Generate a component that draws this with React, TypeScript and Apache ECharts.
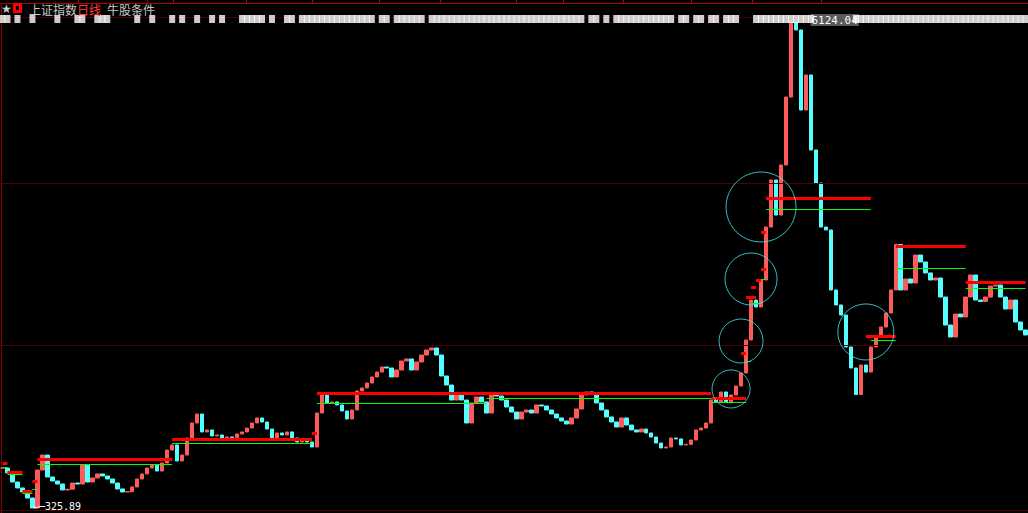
import React, { useEffect, useRef } from "react";
import * as echarts from "echarts";

// Daily closes (one bar per ~5px column)
const closes = [
  803, 744, 636, 565, 517, 445, 325.89, 779, 958, 696,
  648, 612, 541, 550, 624, 612, 839, 636, 684, 732,
  708, 672, 624, 553, 517, 520, 577, 672, 732, 803,
  839, 767, 863, 1018, 1078, 887, 958, 1161, 1340, 1447,
  1233, 1257, 1185, 1197, 1161, 1173, 1168, 1209, 1233, 1280,
  1340, 1400, 1352, 1268, 1161, 1221, 1197, 1233, 1161, 1113,
  1137, 1113, 1054, 1459, 1698, 1579, 1591, 1555, 1483, 1388,
  1495, 1722, 1758, 1817, 1889, 1948, 2008, 1996, 1889, 1972,
  2080, 2104, 1972, 2068, 2151, 2211, 2235, 2151, 1901, 1793,
  1614, 1674, 1614, 1340, 1579, 1650, 1591, 1459, 1698, 1662,
  1614, 1531, 1471, 1388, 1471, 1495, 1459, 1555, 1543, 1495,
  1447, 1400, 1364, 1328, 1400, 1507, 1674, 1710, 1698, 1579,
  1495, 1412, 1352, 1292, 1400, 1316, 1257, 1233, 1268, 1221,
  1173, 1101, 1042, 1054, 1161, 1150, 1078, 1085, 1137, 1257,
  1280, 1340, 1614, 1591, 1710, 1591, 1674, 1781, 1937, 2330,
  2807, 2724, 3046, 3678, 4239, 3821, 4418, 5229, 6124.04, 6029,
  5074, 5492, 4597, 4203, 3678, 3643, 2927, 2748, 2628, 2247,
  1996, 1680, 2032, 1948, 2247, 2378, 2485, 2652, 2927, 3470,
  2927, 3058, 3010, 3344, 3261, 3130, 3046, 3070, 2843, 2509,
  2366, 2640, 2605, 2843, 3106, 2807, 2790, 2843, 2974, 2986,
  2843, 2700, 2807, 2545, 2450, 2390,
];

const PEAK = 6124.04;
const LOW = 325.89;
const peakIndex = 158;
const lowIndex = 6;

// [startIndex, endIndex, price]
const redLevels = [
  [0, 1, 863], [1, 4, 755], [4, 6, 529], [6, 7, 648], [7, 34, 911],
  [34, 62, 1149], [62, 63, 1221], [63, 142, 1698], [142, 149, 1638],
  [148, 149, 2175], [149, 151, 2843], [150, 151, 2963], [151, 152, 3046],
  [152, 153, 3177], [152, 153, 3619], [153, 174, 4024], [173, 179, 2378],
  [179, 193, 3452], [193, 205, 3022],
];
const greenLevels = [
  [0, 1, 815], [1, 4, 732], [4, 6, 505], [6, 7, 553], [7, 34, 851],
  [34, 62, 1101], [63, 97, 1579], [97, 142, 1638], [142, 149, 1591],
  [149, 150, 2080], [150, 152, 2772], [152, 153, 3058], [153, 174, 3893],
  [174, 179, 2330], [179, 193, 3189], [193, 205, 2951],
];
// [index, price, diameter]
const circles = [
  [152, 3917, 70], [150, 3058, 52], [148, 2318, 44], [146, 1746, 38], [173, 2426, 56],
];
// runs of signal marks along the top strip [startIndex, endIndex]
const signalRuns = [
  [0, 1], [3, 3], [6, 6], [11, 11], [15, 16], [19, 21], [27, 27], [30, 30],
  [34, 34], [36, 36], [39, 39], [42, 42], [44, 44], [48, 52], [54, 54],
  [57, 58], [60, 74], [76, 77], [79, 84], [86, 116], [118, 119], [121, 121],
  [123, 134], [136, 137], [139, 140], [142, 143], [145, 147], [151, 162],
  [171, 205],
];
const gridLevels = [4203, 2271];
const topTicks = [78, 147, 173, 246, 312, 379, 440, 516, 563, 623, 691, 752, 821];

export default function App() {
  const ref = useRef<HTMLDivElement>(null);
  useEffect(() => {
    if (!ref.current) return;
    const chart = echarts.init(ref.current, null, { renderer: "svg" });
    const cats = closes.map((_, i) => String(i));
    const candles = closes.map((c, i) => {
      const o = i ? closes[i - 1] : c;
      return [o, c, Math.min(o, c), Math.max(o, c)];
    });
    const signals: number[][] = [];
    signalRuns.forEach(([s, e]) => {
      for (let i = s; i <= e; i++) signals.push([i, 0.5]);
    });
    const seg = (lv: number[][]) =>
      lv.map(([s, e, v]) => [{ coord: [s, v] }, { coord: [e, v] }]);
    const hidden = {
      type: "line",
      data: closes,
      showSymbol: false,
      silent: true,
      lineStyle: { opacity: 0 },
    };
    const graphic: any[] = [
      { type: "line", z: 0, shape: { x1: 0, y1: 3.5, x2: 1028, y2: 3.5 }, style: { stroke: "#b00000", lineWidth: 1 } },
      ...topTicks.map((x) => ({
        type: "line", z: 0, shape: { x1: x + 0.5, y1: 0, x2: x + 0.5, y2: 3.5 }, style: { stroke: "#b00000", lineWidth: 1 },
      })),
      { type: "line", z: 0, shape: { x1: 0, y1: 17.5, x2: 1028, y2: 17.5 }, style: { stroke: "#500000", lineWidth: 1 } },
      { type: "line", z: 0, shape: { x1: 1.5, y1: 3, x2: 1.5, y2: 513 }, style: { stroke: "#8a0000", lineWidth: 1 } },
      { type: "line", z: 0, shape: { x1: 0, y1: 510.5, x2: 1028, y2: 510.5 }, style: { stroke: "#500000", lineWidth: 1 } },
      { type: "text", z: 10, x: 1, y: 9, style: { text: "★", fill: "#c8c8c8", fontSize: 12, fontFamily: "DejaVu Sans", textVerticalAlign: "middle" } },
      { type: "rect", z: 10, shape: { x: 14.5, y: 4.5, width: 6, height: 7 }, style: { fill: "#000", stroke: "#ff0000", lineWidth: 3 } },
      { type: "text", z: 10, x: 29, y: 9, style: { text: "上证指数", fill: "#c8c8c8", fontSize: 12, fontFamily: "Noto Sans CJK SC", textVerticalAlign: "middle" } },
      { type: "text", z: 10, x: 77, y: 9, style: { text: "日线", fill: "#ff3c3c", fontSize: 12, fontFamily: "Noto Sans CJK SC", textVerticalAlign: "middle" } },
      { type: "text", z: 10, x: 107, y: 9, style: { text: "牛股条件", fill: "#c8c8c8", fontSize: 12, fontFamily: "Noto Sans CJK SC", textVerticalAlign: "middle" } },
    ];
    chart.setOption({
      backgroundColor: "#000",
      animation: false,
      grid: [
        { left: 0, right: 0, top: 22, bottom: 5 },
        { left: 0, right: 0, top: 15, height: 8 },
      ],
      xAxis: [
        { type: "category", data: cats, show: false, gridIndex: 0 },
        { type: "category", data: cats, show: false, gridIndex: 1 },
      ],
      yAxis: [
        { type: "value", min: LOW, max: PEAK, show: false, gridIndex: 0 },
        { type: "value", min: 0, max: 1, show: false, gridIndex: 1 },
      ],
      graphic,
      series: [
        {
          ...hidden,
          z: 1,
          markLine: {
            silent: true,
            symbol: ["none", "none"],
            label: { show: false },
            lineStyle: { color: "#500000", width: 1, type: "solid" },
            data: gridLevels.map((v) => ({ yAxis: v })),
          },
        },
        {
          type: "candlestick",
          data: candles,
          barWidth: 4,
          z: 2,
          itemStyle: {
            color: "#ff5a5a",
            color0: "#55ffff",
            borderColor: "#ff5a5a",
            borderColor0: "#55ffff",
            borderWidth: 1,
          },
          markPoint: {
            symbol: "circle",
            symbolSize: 1,
            itemStyle: { color: "rgba(0,0,0,0)" },
            data: [
              {
                coord: [peakIndex, PEAK],
                label: {
                  show: true, formatter: "6124.04", position: "right", offset: [14, -2],
                  color: "#fff", backgroundColor: "#5a5a5a", padding: [1, 1, 0, 1],
                  fontFamily: "DejaVu Sans Mono", fontSize: 11,
                },
              },
              {
                coord: [lowIndex, LOW],
                label: {
                  show: true, formatter: "←─325.89", position: "right", offset: [-5, -2],
                  color: "#fff", fontFamily: "DejaVu Sans Mono", fontSize: 10,
                },
              },
            ],
          },
        },
        {
          ...hidden,
          z: 3,
          markLine: {
            silent: true,
            symbol: ["none", "none"],
            label: { show: false },
            lineStyle: { color: "#00ff00", width: 1, type: "solid" },
            data: seg(greenLevels),
          },
        },
        {
          ...hidden,
          z: 4,
          markLine: {
            silent: true,
            symbol: ["none", "none"],
            label: { show: false },
            lineStyle: { color: "#ff0000", width: 3, type: "solid" },
            data: seg(redLevels),
          },
        },
        {
          type: "scatter",
          z: 5,
          silent: true,
          data: circles,
          symbol: "circle",
          symbolSize: (v: number[]) => v[2],
          itemStyle: { color: "rgba(0,0,0,0)", borderColor: "#40e8f0", borderWidth: 1 },
        },
        {
          type: "scatter",
          xAxisIndex: 1,
          yAxisIndex: 1,
          z: 5,
          silent: true,
          data: signals,
          symbol: "rect",
          symbolSize: [6, 8],
          itemStyle: { color: "#ffffff" },
        },
      ],
    });
    return () => chart.dispose();
  }, []);
  return (
    <div
      ref={ref}
      style={{ position: "fixed", left: 0, top: 0, width: 1028, height: 513, background: "#000" }}
    />
  );
}
